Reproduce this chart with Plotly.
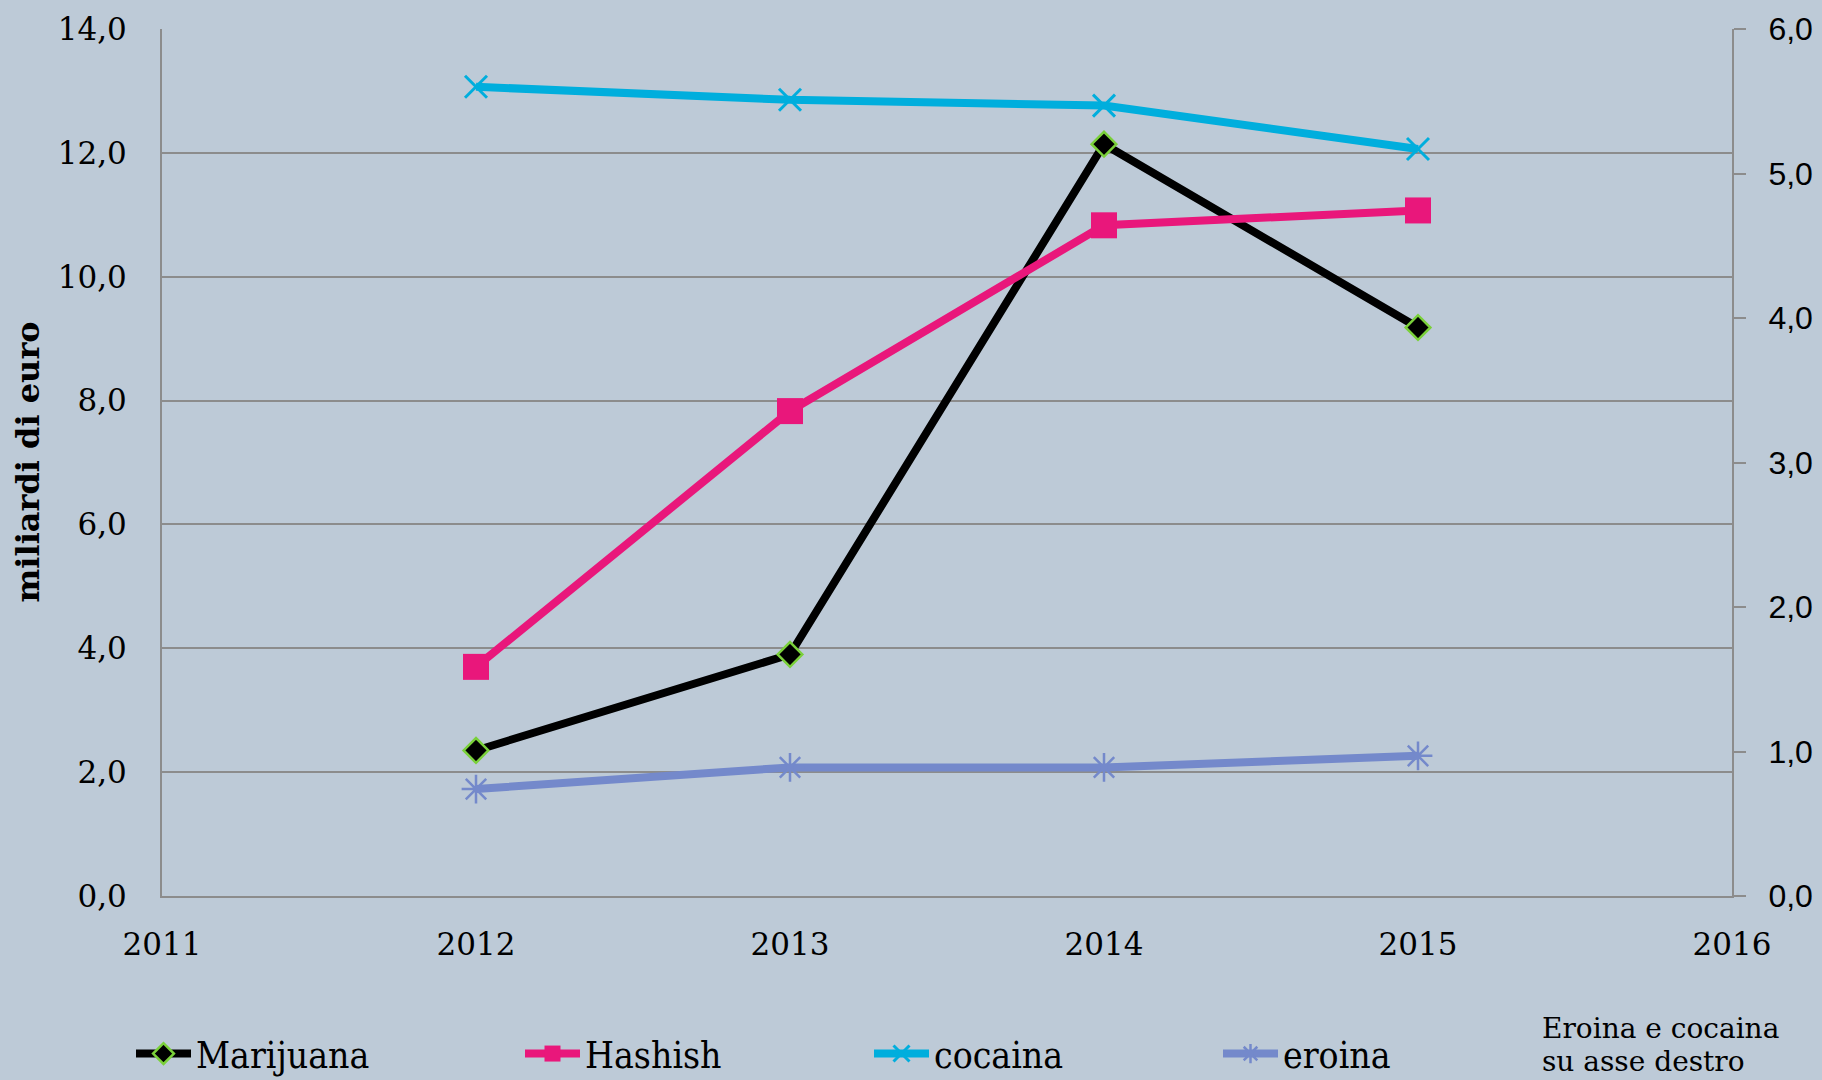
import plotly.graph_objects as go

years = [2012, 2013, 2014, 2015]
marijuana = [2.35, 3.90, 12.14, 9.18]
hashish = [3.70, 7.83, 10.83, 11.07]
cocaina = [5.60, 5.51, 5.47, 5.17]
eroina = [0.74, 0.89, 0.89, 0.97]

left_ticks = [0, 2, 4, 6, 8, 10, 12, 14]
right_ticks = [0, 1, 2, 3, 4, 5, 6]
x_ticks = [2011, 2012, 2013, 2014, 2015, 2016]

BG = "#BDCAD7"
GRID = "#8C8C8C"
SERIF = "DejaVu Serif"

PL, PR, PT, PB = 162, 1732, 29, 896
PW, PH = PR - PL, PB - PT


def px(xf):
    return (xf - PL) / PW


def py(yf):
    return (PB - yf) / PH


LW = 8
fig = go.Figure()
fig.add_trace(go.Scatter(
    x=years, y=marijuana, name="Marijuana", mode="lines+markers", legend="legend",
    line=dict(color="black", width=LW),
    marker=dict(symbol="diamond", size=19, color="black",
                line=dict(color="#7AD03A", width=2.5)),
))
fig.add_trace(go.Scatter(
    x=years, y=hashish, name="Hashish", mode="lines+markers", legend="legend2",
    line=dict(color="#E9177B", width=LW),
    marker=dict(symbol="square", size=26, color="#E9177B"),
))
fig.add_trace(go.Scatter(
    x=years, y=cocaina, name="cocaina", mode="lines+markers", yaxis="y2", legend="legend3",
    line=dict(color="#00AEDD", width=LW),
    marker=dict(symbol="x-thin", size=22, color="#00AEDD",
                line=dict(color="#00AEDD", width=3)),
))
fig.add_trace(go.Scatter(
    x=years, y=eroina, name="eroina", mode="lines+markers", yaxis="y2", legend="legend4",
    line=dict(color="#7489CB", width=LW),
    marker=dict(symbol="asterisk", size=24, color="#7489CB",
                line=dict(color="#7489CB", width=2.5)),
))

legend_font = dict(family="DejaVu Serif Condensed", size=37, color="black")
legend_y = py(1054)


def legend_at(xpix):
    return dict(orientation="h", x=px(xpix - 6), xanchor="left", y=legend_y,
                yanchor="middle", bgcolor="rgba(0,0,0,0)", font=legend_font,
                itemwidth=55)


fig.update_layout(
    width=1822, height=1080,
    margin=dict(l=PL, r=1822 - PR, t=PT, b=1080 - PB, autoexpand=False),
    paper_bgcolor=BG, plot_bgcolor=BG,
    separators=",.",
    font=dict(family=SERIF, size=30, color="black"),
    xaxis=dict(
        range=[2011, 2016], tickvals=x_ticks, ticktext=[str(v) for v in x_ticks],
        showgrid=False, zeroline=False, showline=True, linecolor=GRID, linewidth=2,
        ticks="", ticklabelstandoff=20,
        tickfont=dict(family=SERIF, size=31, color="black"),
    ),
    yaxis=dict(
        range=[0, 14], tickvals=left_ticks, tickformat=".1f",
        showgrid=True, gridcolor=GRID, gridwidth=2, zeroline=False,
        showline=True, linecolor=GRID, linewidth=2, ticks="",
        ticklabelstandoff=27,
        tickfont=dict(family=SERIF, size=31, color="black"),
    ),
    yaxis2=dict(
        range=[0, 6], tickvals=right_ticks, tickformat=".1f",
        overlaying="y", side="right", showgrid=False, zeroline=False,
        showline=True, linecolor=GRID, linewidth=2,
        ticks="outside", ticklen=12, tickwidth=2, tickcolor=GRID,
        ticklabelstandoff=16,
        tickfont=dict(family="Liberation Sans", size=32, color="black"),
    ),
    legend=legend_at(137),
    legend2=legend_at(526),
    legend3=legend_at(875),
    legend4=legend_at(1224),
    showlegend=True,
)

fig.add_annotation(
    text="<b>miliardi di euro</b>", textangle=-90,
    xref="paper", yref="paper", x=px(27), y=0.5, xanchor="center", yanchor="middle",
    showarrow=False, font=dict(family=SERIF, size=32, color="black"),
)
fig.add_annotation(
    text="Eroina e cocaina", xref="paper", yref="paper",
    x=px(1540), y=py(1028), xanchor="left", yanchor="middle",
    showarrow=False, font=dict(family=SERIF, size=28, color="black"),
)
fig.add_annotation(
    text="su asse destro", xref="paper", yref="paper",
    x=px(1540), y=py(1061), xanchor="left", yanchor="middle",
    showarrow=False, font=dict(family=SERIF, size=28, color="black"),
)

fig.write_html(
    "out.html",
    config={"displayModeBar": False},
    post_script="document.body.style.margin='0';document.body.style.overflow='hidden';"
                "document.body.style.background='" + BG + "';",
)
